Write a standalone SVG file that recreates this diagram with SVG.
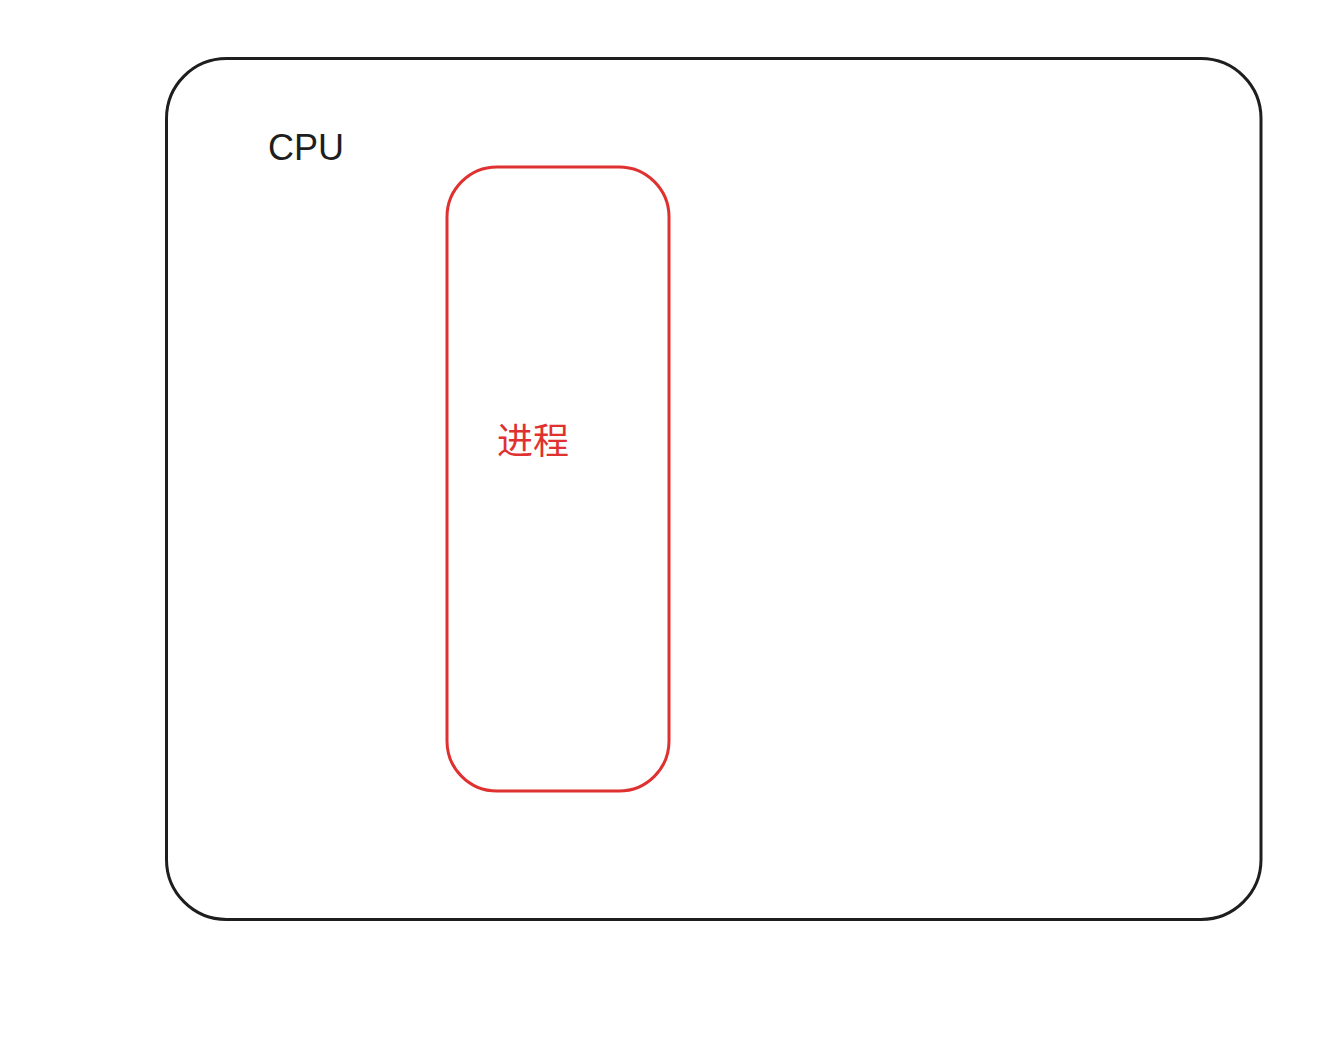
<svg xmlns="http://www.w3.org/2000/svg" width="1332" height="1050" viewBox="0 0 1332 1050">
<style>
.cpu{fill:none;stroke:#1e1e1e;stroke-width:3;stroke-linecap:round}
.proc{fill:none;stroke:#e03131;stroke-width:3;stroke-linecap:round}
.t{font-family:"Liberation Sans","Noto Sans CJK SC",sans-serif;font-size:36px}
</style>
<rect width="1332" height="1050" fill="#ffffff"/>
<g id="cpu">
<rect class="cpu" x="166.5" y="58.5" width="1094.5" height="861" rx="60" ry="60"/>
<text class="t" x="268" y="160" fill="#1e1e1e">CPU</text>
</g>
<g id="process">
<rect class="proc" x="447" y="167" width="222" height="624" rx="50" ry="50"/>
<text class="t" x="533" y="454" fill="#e03131" text-anchor="middle">进程</text>
</g>
<g id="connectors"></g>
</svg>
